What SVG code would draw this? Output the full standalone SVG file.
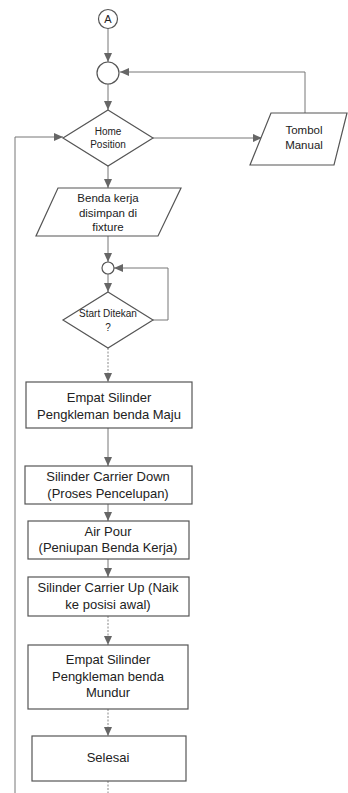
<svg xmlns="http://www.w3.org/2000/svg" width="348" height="793" viewBox="0 0 348 793">
<style>
.s{fill:#fff;stroke:#555;stroke-width:1.2}
.t{font-family:"Liberation Sans",Arial,sans-serif;fill:#222;text-anchor:middle}
.c{fill:none;stroke:#777;stroke-width:1}
.d{fill:none;stroke:#888;stroke-width:1;stroke-dasharray:2 1.5}
</style>
<defs>
<marker id="ah" markerWidth="9" markerHeight="8" refX="9" refY="4" orient="auto" markerUnits="userSpaceOnUse">
<path d="M0,0 L9,4 L0,8 Z" fill="#666"/>
</marker>
</defs>
<rect width="348" height="793" fill="#fff"/>
<g id="connectors">
<path class="c" d="M108,28 V62" marker-end="url(#ah)"/>
<path class="c" d="M108,84 V110" marker-end="url(#ah)"/>
<path class="c" d="M305,113 V72 H120" marker-end="url(#ah)"/>
<path class="c" d="M153,138 H262" marker-end="url(#ah)"/>
<path class="c" d="M15,793 V137 H63" marker-end="url(#ah)"/>
<path class="c" d="M108,166 V188" marker-end="url(#ah)"/>
<path class="c" d="M108,236 V262" marker-end="url(#ah)"/>
<path class="c" d="M153,320 H168 V268 H114" marker-end="url(#ah)"/>
<path class="c" d="M108,274 V292" marker-end="url(#ah)"/>
<path class="d" d="M108,348 V382" marker-end="url(#ah)"/>
<path class="c" d="M108,428 V466" marker-end="url(#ah)"/>
<path class="c" d="M108,504 V521" marker-end="url(#ah)"/>
<path class="c" d="M108,559 V577" marker-end="url(#ah)"/>
<path class="d" d="M108,616 V645" marker-end="url(#ah)"/>
<path class="d" d="M108,709 V736" marker-end="url(#ah)"/>
<path class="d" d="M108,781 V793"/>
</g>
<g id="connA">
<circle class="s" cx="108" cy="19" r="9.5"/>
<text class="t" x="108" y="23" font-size="11">A</text>
</g>
<g id="junction1">
<circle class="s" cx="108" cy="73" r="11"/>
</g>
<g id="homePosition">
<path class="s" d="M108,110 L153,138 L108,166 L63,138 Z"/>
<text class="t" x="108" y="135" font-size="10">Home</text>
<text class="t" x="108" y="148" font-size="10">Position</text>
</g>
<g id="tombolManual">
<path class="s" d="M271,113 L347,113 L334,165 L250,165 Z"/>
<text class="t" x="304" y="134" font-size="11.5">Tombol</text>
<text class="t" x="304" y="149" font-size="11.5">Manual</text>
</g>
<g id="bendaKerja">
<path class="s" d="M58,188 L181,188 L158,236 L36,236 Z"/>
<text class="t" x="108" y="202" font-size="11.5">Benda kerja</text>
<text class="t" x="108" y="217" font-size="11.5">disimpan di</text>
<text class="t" x="108" y="231" font-size="11.5">fixture</text>
</g>
<g id="junction2">
<circle class="s" cx="108" cy="268" r="6"/>
</g>
<g id="startDitekan">
<path class="s" d="M108,292 L153,320 L108,348 L63,320 Z"/>
<text class="t" x="108" y="317" font-size="10">Start Ditekan</text>
<text class="t" x="108" y="331" font-size="10">?</text>
</g>
<g id="box1">
<rect class="s" x="26" y="382" width="166" height="46"/>
<text class="t" x="109" y="402" font-size="13">Empat Silinder</text>
<text class="t" x="109" y="419" font-size="13">Pengkleman benda Maju</text>
</g>
<g id="box2">
<rect class="s" x="25" y="466" width="167" height="38"/>
<text class="t" x="108" y="481" font-size="13">Silinder  Carrier Down</text>
<text class="t" x="108" y="498" font-size="13">(Proses Pencelupan)</text>
</g>
<g id="box3">
<rect class="s" x="28" y="521" width="161" height="38"/>
<text class="t" x="108" y="536" font-size="13">Air Pour</text>
<text class="t" x="108" y="552" font-size="13">(Peniupan Benda Kerja)</text>
</g>
<g id="box4">
<rect class="s" x="28" y="577" width="161" height="39"/>
<text class="t" x="108" y="592" font-size="13">Silinder Carrier Up (Naik</text>
<text class="t" x="108" y="609" font-size="13">ke posisi awal)</text>
</g>
<g id="box5">
<rect class="s" x="28" y="645" width="160" height="64"/>
<text class="t" x="108" y="664" font-size="13">Empat Silinder</text>
<text class="t" x="108" y="681" font-size="13">Pengkleman benda</text>
<text class="t" x="108" y="697" font-size="13">Mundur</text>
</g>
<g id="selesai">
<rect class="s" x="32" y="736" width="154" height="45"/>
<text class="t" x="108" y="762" font-size="13">Selesai</text>
</g>
</svg>
